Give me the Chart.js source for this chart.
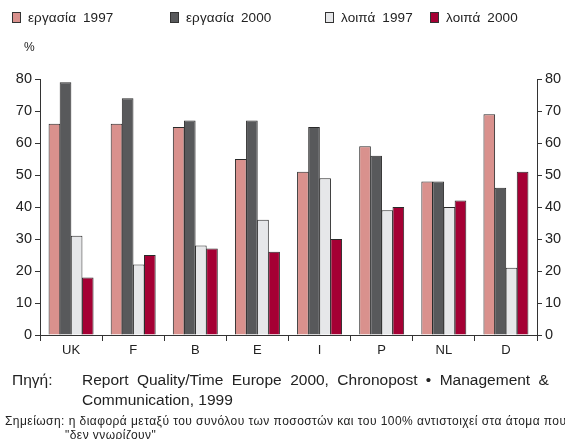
<!DOCTYPE html>
<html>
<head>
<meta charset="utf-8">
<script src="https://cdn.jsdelivr.net/npm/chart.js@4"></script>
<style>
    body { margin: 0; background: #fff; font-family: "Liberation Sans", Arial, sans-serif; color: #222; }
    #wrap { position: relative; width: 565px; height: 439px; overflow: hidden; }
    #chart { position: absolute; left: 0; top: 0; }
    .leg { position: absolute; top: 10px; font-size: 13.5px; letter-spacing: 0.1px; word-spacing: 3px; white-space: nowrap; }
    .leg i { display: inline-block; width: 7px; height: 9px; border: 1px solid #333; margin-right: 7px; vertical-align: -1px; }
    .pct { position: absolute; left: 24px; top: 40px; font-size: 12px; }
    .src { position: absolute; left: 12px; top: 370px; font-size: 15.5px; line-height: 20px; }
    .src span { position: absolute; left: 70px; white-space: nowrap; }
    .note { position: absolute; left: 5px; top: 414px; font-size: 12px; letter-spacing: 0.45px; line-height: 14px; white-space: nowrap; }
</style>
</head>
<body>
<div id="wrap">
    <canvas id="chart" width="565" height="439"></canvas>
    <div id="legend"></div>
    <div class="pct">%</div>
    <div class="src">Πηγή:<span><span style="position:static;word-spacing:4.1px">Report Quality/Time Europe 2000, Chronopost • Management &amp;</span><br>Communication, 1999</span></div>
    <div class="note">Σημείωση: η διαφορά μεταξύ του συνόλου των ποσοστών και του 100% αντιστοιχεί στα άτομα που<br><span style="padding-left:60px">"δεν γνωρίζουν"</span></div>
</div>
<script>
const countries = ["UK", "F", "B", "E", "I", "P", "NL", "D"];
const work1997 = [66, 66, 65, 55, 51, 59, 48, 69];
const work2000 = [79, 74, 67, 67, 65, 56, 48, 46];
const other1997 = [31, 22, 28, 36, 49, 39, 40, 21];
const other2000 = [18, 25, 27, 26, 30, 40, 42, 51];
const seriesNames = ["εργασία 1997", "εργασία 2000", "λοιπά 1997", "λοιπά 2000"];
const colors = ["#d9918d", "#58595b", "#e6e7e9", "#a50034"];
const legendX = [12, 170, 325, 430];

const legend = document.getElementById("legend");
seriesNames.forEach((name, i) => {
    const el = document.createElement("div");
    el.className = "leg";
    el.style.left = legendX[i] + "px";
    el.innerHTML = `<i style="background:${colors[i]}"></i>${name}`;
    legend.appendChild(el);
});

const values = [work1997, work2000, other1997, other2000];
const axisColor = "#333";

const yAxis = (position) => ({
    position,
    min: 0,
    max: 80,
    ticks: { stepSize: 10, color: "#222", font: { family: "Liberation Sans", size: 14.5 }, padding: 3 },
    grid: { drawOnChartArea: false, drawTicks: true, tickLength: 5, color: axisColor },
    border: { display: true, color: axisColor },
    afterFit(scale) { scale.width = position === "left" ? 40 : 28; }
});

new Chart(document.getElementById("chart"), {
    type: "bar",
    data: {
        labels: countries,
        datasets: values.map((data, i) => ({
            label: seriesNames[i],
            data,
            backgroundColor: colors[i],
            borderColor: "#2a2a2a",
            borderWidth: 1,
            categoryPercentage: 0.715,
            barPercentage: 1.05,
            yAxisID: "y"
        }))
    },
    options: {
        responsive: false,
        animation: false,
        layout: { padding: { top: 79, left: 0, right: 0, bottom: 0 } },
        plugins: { legend: { display: false }, tooltip: { enabled: false } },
        scales: {
            x: {
                ticks: { color: "#222", font: { family: "Liberation Sans", size: 13 }, padding: 2 },
                grid: { offset: true, drawOnChartArea: false, drawTicks: true, tickLength: 6, color: axisColor },
                border: { display: true, color: axisColor },
                afterFit(scale) { scale.height = 104; }
            },
            y: yAxis("left"),
            y2: yAxis("right")
        }
    }
});
</script>
</body>
</html>
